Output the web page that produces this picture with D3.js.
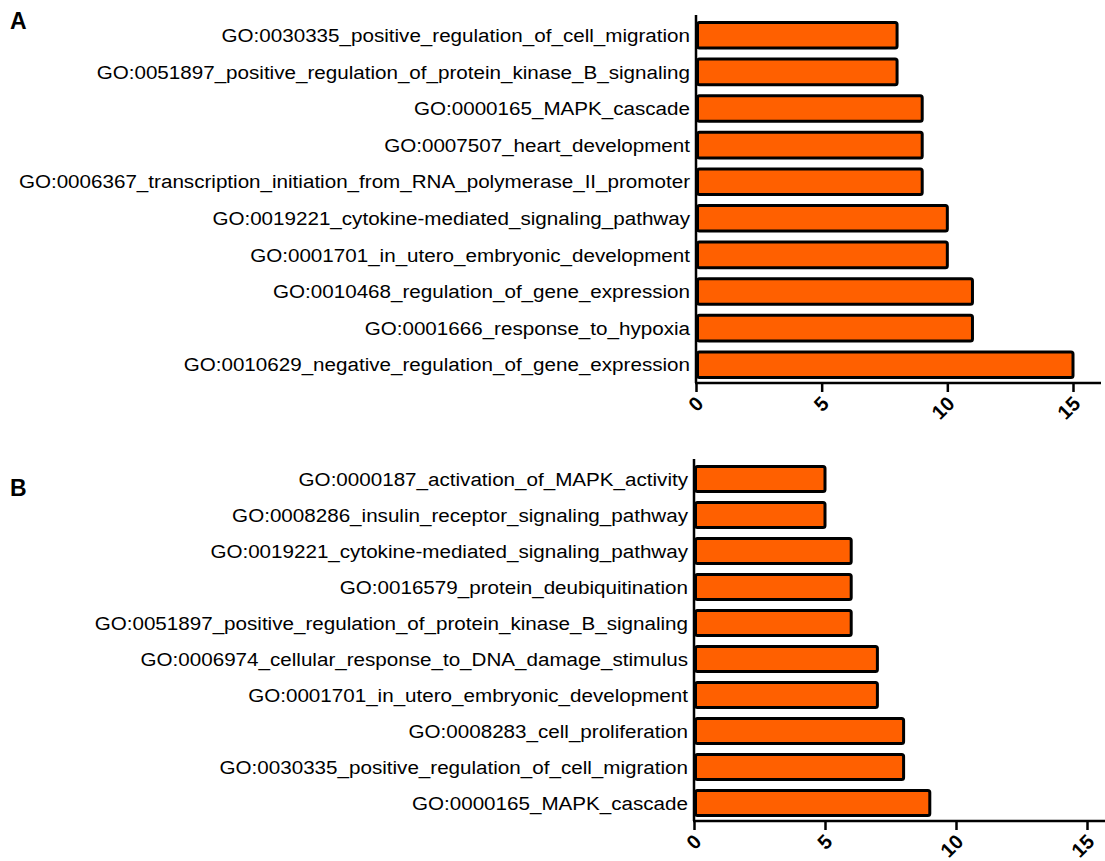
<!DOCTYPE html>
<html>
<head>
<meta charset="utf-8">
<script src="https://cdn.jsdelivr.net/npm/d3@7"></script>
<style>
  body { margin: 0; background: #fff; }
  svg { display: block; font-family: Arial, "Liberation Sans", sans-serif; }
</style>
</head>
<body>
<div id="chart"></div>
<script>
const termsA = [
  'GO:0030335_positive_regulation_of_cell_migration',
  'GO:0051897_positive_regulation_of_protein_kinase_B_signaling',
  'GO:0000165_MAPK_cascade',
  'GO:0007507_heart_development',
  'GO:0006367_transcription_initiation_from_RNA_polymerase_II_promoter',
  'GO:0019221_cytokine-mediated_signaling_pathway',
  'GO:0001701_in_utero_embryonic_development',
  'GO:0010468_regulation_of_gene_expression',
  'GO:0001666_response_to_hypoxia',
  'GO:0010629_negative_regulation_of_gene_expression'
];
const countsA = [8, 8, 9, 9, 9, 10, 10, 11, 11, 15];

const termsB = [
  'GO:0000187_activation_of_MAPK_activity',
  'GO:0008286_insulin_receptor_signaling_pathway',
  'GO:0019221_cytokine-mediated_signaling_pathway',
  'GO:0016579_protein_deubiquitination',
  'GO:0051897_positive_regulation_of_protein_kinase_B_signaling',
  'GO:0006974_cellular_response_to_DNA_damage_stimulus',
  'GO:0001701_in_utero_embryonic_development',
  'GO:0008283_cell_proliferation',
  'GO:0030335_positive_regulation_of_cell_migration',
  'GO:0000165_MAPK_cascade'
];
const countsB = [5, 5, 6, 6, 6, 7, 7, 8, 8, 9];

const xTicks = [0, 5, 10, 15];

const width = 1105, height = 861;
const svg = d3.select('#chart').append('svg')
  .attr('width', width)
  .attr('height', height);

function drawPanel(letter, terms, counts, box) {
  const g = svg.append('g');

  const x = d3.scaleLinear().domain([0, 15]).range([box.left, box.x15]);
  const y = d3.scaleBand().domain(terms).range([box.top + 2, box.bottom])
    .paddingInner(0.3).paddingOuter(0.15);

  g.selectAll('rect.bar')
    .data(terms)
    .enter().append('rect')
    .attr('class', 'bar')
    .attr('x', x(0) + 1.5)
    .attr('y', d => y(d))
    .attr('width', (d, i) => x(counts[i]) - x(0) - 1.5)
    .attr('height', y.bandwidth())
    .attr('rx', 2)
    .attr('fill', '#ff6000')
    .attr('stroke', '#000')
    .attr('stroke-width', 3);

  // category labels, slightly wide like the original
  g.selectAll('text.lbl')
    .data(terms)
    .enter().append('text')
    .attr('class', 'lbl')
    .attr('transform', d => `translate(${x(0) - 6},${y(d) + y.bandwidth() / 2}) scale(1.085,1)`)
    .attr('dy', '0.35em')
    .attr('text-anchor', 'end')
    .attr('font-size', 19)
    .attr('fill', '#000')
    .text(d => d);

  // y axis line
  g.append('line')
    .attr('x1', x(0)).attr('x2', x(0))
    .attr('y1', box.top).attr('y2', box.bottom)
    .attr('stroke', '#000').attr('stroke-width', 2.5);

  // x axis
  const xAxis = d3.axisBottom(x).tickValues(xTicks).tickSize(9).tickSizeOuter(0);
  const ax = g.append('g')
    .attr('transform', `translate(0,${box.bottom})`)
    .call(xAxis);
  ax.select('.domain').remove();
  ax.append('line')
    .attr('x1', x(0) - 1).attr('x2', box.right)
    .attr('stroke', '#000').attr('stroke-width', 2.5);
  ax.selectAll('.tick line').attr('stroke', '#000').attr('stroke-width', 2.5);
  ax.selectAll('.tick text')
    .attr('font-family', 'Arial, "Liberation Sans", sans-serif')
    .attr('font-size', 20)
    .attr('font-weight', 'bold')
    .attr('fill', '#000')
    .attr('text-anchor', 'end')
    .attr('dy', null)
    .attr('y', 0)
    .attr('transform', 'translate(8,22) rotate(-45)');

  svg.append('text')
    .attr('x', box.letterX)
    .attr('y', box.letterY)
    .attr('font-size', 23)
    .attr('font-weight', 'bold')
    .text(letter);
}

drawPanel('A', termsA, countsA,
  { left: 696, x15: 1073, right: 1101, top: 15, bottom: 383, letterX: 10, letterY: 29 });
drawPanel('B', termsB, countsB,
  { left: 694, x15: 1087, right: 1105, top: 459, bottom: 821, letterX: 10, letterY: 496 });
</script>
</body>
</html>
